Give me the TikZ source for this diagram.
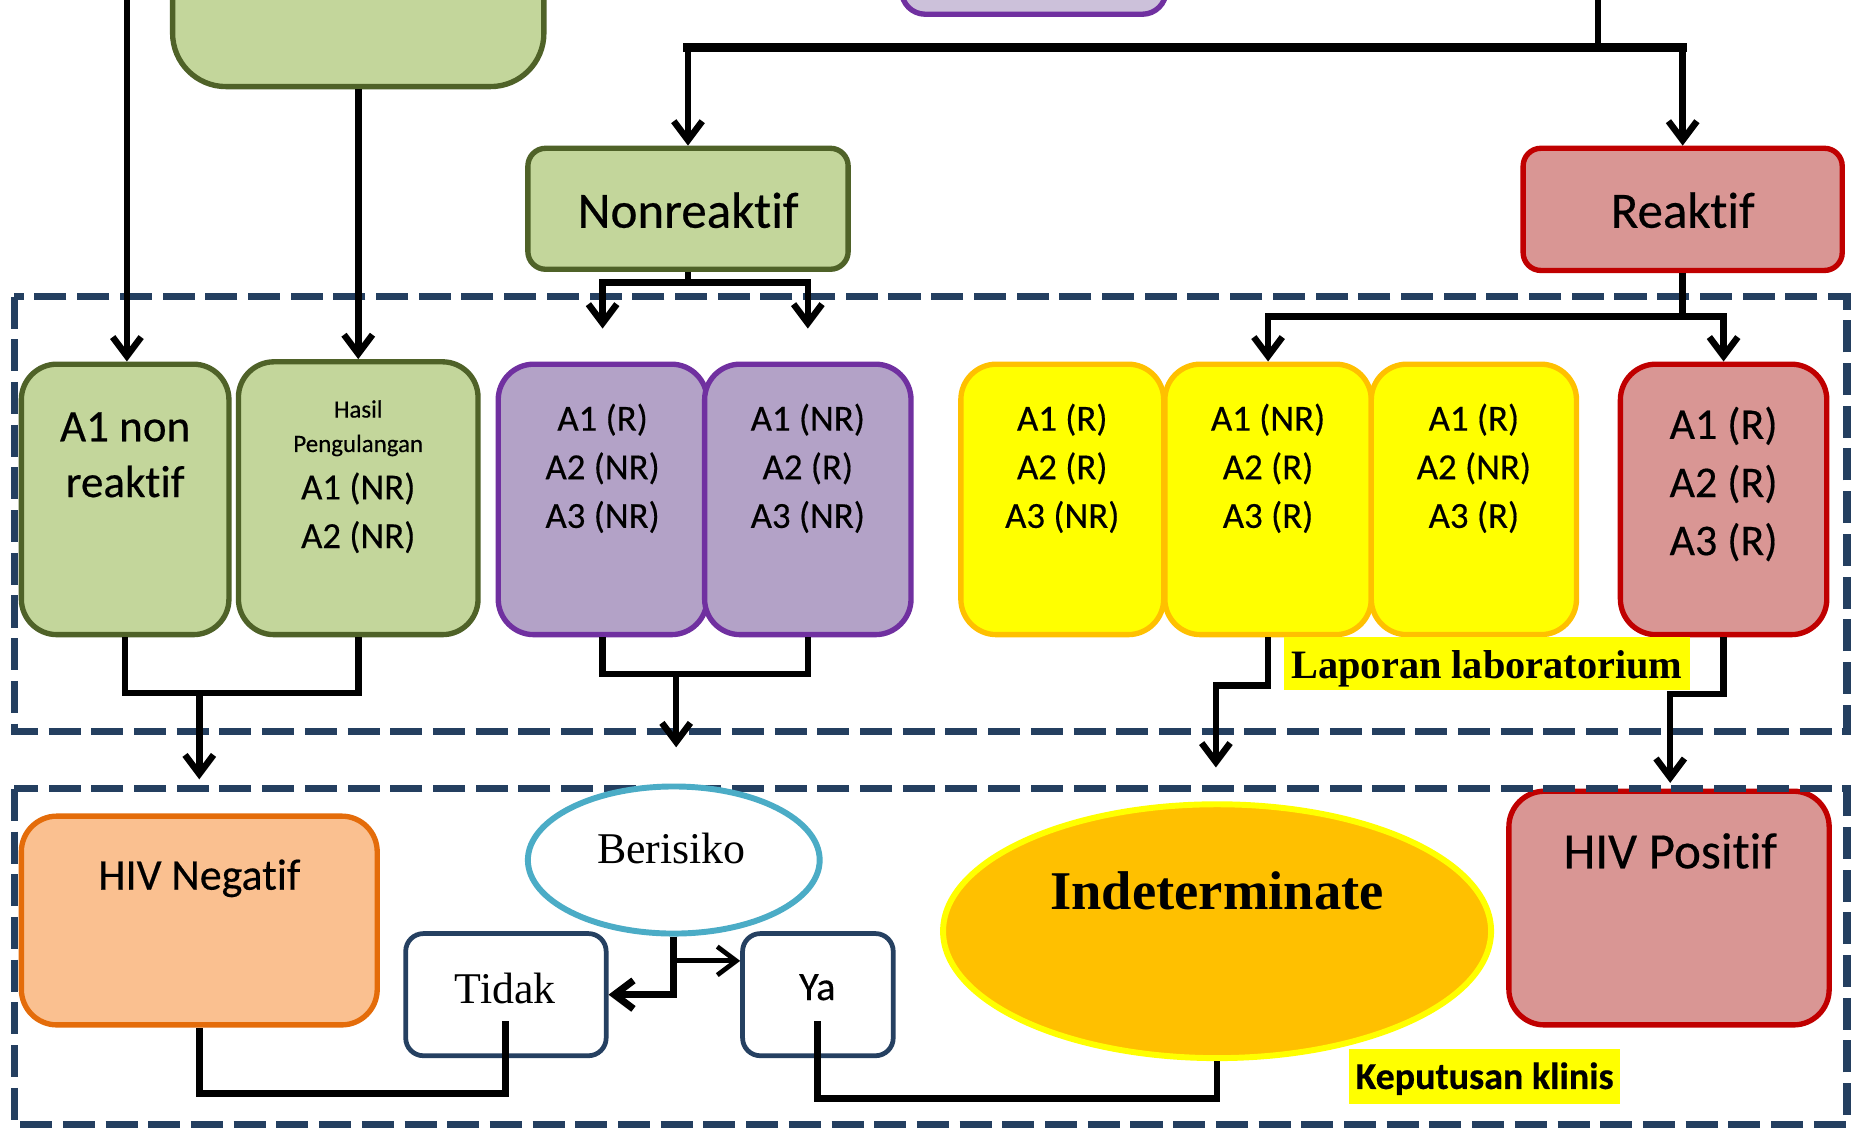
\documentclass[tikz,border=0pt]{standalone}
\usepackage{fontspec}
\setmainfont{Liberation Serif}
\newfontfamily\calfont{Carlito}[FakeBold=0.4,Ligatures=NoCommon]
\newfontfamily\camfont{Liberation Serif}
\usetikzlibrary{arrows.meta,shapes.geometric}
\definecolor{grnF}{HTML}{C3D69B}
\definecolor{grnD}{HTML}{4F6228}
\definecolor{purF}{HTML}{B3A2C7}
\definecolor{purD}{HTML}{7030A0}
\definecolor{purL}{HTML}{CCC1DA}
\definecolor{ylF}{HTML}{FFFF00}
\definecolor{ylD}{HTML}{FFC000}
\definecolor{redF}{HTML}{D99694}
\definecolor{redD}{HTML}{C00000}
\definecolor{orF}{HTML}{FAC090}
\definecolor{orD}{HTML}{E46C0A}
\definecolor{tealD}{HTML}{4BACC6}
\definecolor{bluD}{HTML}{254061}
\definecolor{navy}{HTML}{243F60}
\definecolor{indF}{HTML}{FFC000}
\newcommand\stk[1]{\begin{tabular}[t]{@{}c@{}}#1\end{tabular}}
\tikzset{
  rb/.style={draw, rounded corners=#1, line width=4.5pt, inner sep=0pt},
  rb/.default=30pt,
  conn/.style={line width=5.5pt, draw=black},
  arr/.style={conn, -{Straight Barb[length=16pt,width=24pt]}},
  dbox/.style={draw=navy, line width=6pt, dash pattern=on 27pt off 9pt},
  sA/.style={font=\calfont\fontsize{43}{50}\selectfont, anchor=base, inner sep=0pt},
  sB/.style={font=\calfont\fontsize{38}{47}\selectfont, anchor=base, inner sep=0pt},
  sC/.style={font=\calfont\fontsize{31}{41}\selectfont, anchor=base, inner sep=0pt},
  sD/.style={font=\calfont\fontsize{21}{29}\selectfont, anchor=base, inner sep=0pt},
  sE/.style={font=\calfont\fontsize{37}{49}\selectfont, anchor=base, inner sep=0pt},
  rm/.style={font=\camfont\fontsize{37}{44}\selectfont, anchor=base, inner sep=0pt},
}
\begin{document}
\begin{tikzpicture}[x=1pt,y=-1pt]
\useasboundingbox (0,0) rectangle (1568,953);
\clip (0,0) rectangle (1568,953);
\fill[white] (0,0) rectangle (1568,953);

% top partial boxes
\node[rb=45pt, fill=grnF, draw=grnD, minimum width=313pt, minimum height=140pt] (topG) at (302,3) {};
\node[rb=20pt, fill=purL, draw=purD, minimum width=223pt, minimum height=80pt] (topP) at (871.5,-28) {};

% second level
\node[rb=15pt, fill=grnF, draw=grnD, minimum width=270pt, minimum height=102pt] (nonr) at (580,176) {};
\node[sA] (nonrT) at (580,192) {Nonreaktif};
\node[rb=15pt, fill=redF, draw=redD, minimum width=269pt, minimum height=103pt] (reak) at (1418.5,176.5) {};
\node[sA] (reakT) at (1418.5,192) {Reaktif};

% row of result boxes
\node[rb, fill=grnF, draw=grnD, minimum width=175pt, minimum height=228pt] (a1n) at (105.5,421) {};
\node[sB] (a1nT) at (105.5,372) {\stk{A1 non\\reaktif}};
\node[rb, fill=grnF, draw=grnD, minimum width=202pt, minimum height=230pt] (has) at (302,420) {};
\node[sD] (hasT1) at (302,352) {\stk{Hasil\\Pengulangan}};
\node[sC] (hasT2) at (302,421) {\stk{A1 (NR)\\A2 (NR)}};

\node[rb, fill=purF, draw=purD, minimum width=176pt, minimum height=228pt] (p1) at (508,421) {};
\node[sC] (p1T) at (508,363) {\stk{A1 (R)\\A2 (NR)\\A3 (NR)}};
\node[rb, fill=purF, draw=purD, minimum width=174pt, minimum height=228pt] (p2) at (681,421) {};
\node[sC] (p2T) at (681,363) {\stk{A1 (NR)\\A2 (R)\\A3 (NR)}};

\node[rb, fill=ylF, draw=ylD, minimum width=171pt, minimum height=228pt] (y1) at (895.5,421) {};
\node[sC] (y1T) at (895.5,363) {\stk{A1 (R)\\A2 (R)\\A3 (NR)}};
\node[rb, fill=ylF, draw=ylD, minimum width=174pt, minimum height=228pt] (y2) at (1069,421) {};
\node[sC] (y2T) at (1069,363) {\stk{A1 (NR)\\A2 (R)\\A3 (R)}};
\node[rb, fill=ylF, draw=ylD, minimum width=173pt, minimum height=228pt] (y3) at (1242.5,421) {};
\node[sC] (y3T) at (1242.5,363) {\stk{A1 (R)\\A2 (NR)\\A3 (R)}};

\node[rb, fill=redF, draw=redD, minimum width=174pt, minimum height=228pt] (rr) at (1453,421) {};
\node[sE] (rrT) at (1453,370) {\stk{A1 (R)\\A2 (R)\\A3 (R)}};

\node[fill=ylF, inner sep=0pt, minimum width=343pt, text height=35pt, text depth=10pt,
      font=\camfont\bfseries\fontsize{34}{40}\selectfont] (lap) at (1253.5,559.5) {Laporan laboratorium};

% bottom row
\node[rb, fill=orF, draw=orD, minimum width=300pt, minimum height=176pt] (neg) at (168,776) {};
\node[sE] (negT) at (168,750) {HIV Negatif};
\node[rb, fill=redF, draw=redD, minimum width=270pt, minimum height=197pt] (pos) at (1407,765.5) {};
\node[sA] (posT) at (1408,732) {HIV Positif};
\node[ellipse, fill=indF, draw=ylF, line width=5pt, inner sep=0pt, minimum width=462pt, minimum height=214pt] (ind) at (1026,785) {};
\node[font=\camfont\bfseries\fontsize{46}{54}\selectfont, anchor=base, inner sep=0pt] (indT) at (1026,767) {Indeterminate};
\node[rb=15pt, fill=white, draw=bluD, line width=4pt, minimum width=169pt, minimum height=103pt] (tid) at (426.5,838.5) {};
\node[rm] (tidT) at (426,846) {Tidak};
\node[rb=15pt, fill=white, draw=bluD, line width=4pt, minimum width=127pt, minimum height=103pt] (ya) at (689.5,838.5) {};
\node[font=\calfont\fontsize{34}{40}\selectfont, anchor=base, inner sep=0pt] (yaT) at (689,843) {Ya};
\node[fill=ylF, inner sep=0pt, minimum width=229pt, text height=34pt, text depth=13pt,
      font=\calfont\bfseries\fontsize{32}{38}\selectfont] (kep) at (1251.5,907.5) {Keputusan klinis};

% dashed frames
\draw[dbox] (12,250) rectangle (1557,617);
\draw[dbox] (12,665) rectangle (1557,948);

\node[ellipse, draw=tealD, fill=white, line width=5pt, inner sep=0pt, minimum width=246pt, minimum height=124pt] (ber) at (568,725) {};
\node[rm] (berT) at (566,728) {Berisiko};

% connectors
\coordinate (tl) at (107,-10);
\draw[arr] (tl) -- (tl |- a1n.north);
\draw[arr] (topG.south) -- (has.north);

\coordinate (tr) at (1347,-10);
\coordinate (hj) at (1347,40);
\draw[conn] (tr) -- (hj);
\draw[conn, line width=8pt, line cap=rect] (nonr.north |- hj) -- (reak.north |- hj);
\draw[arr] (nonr.north |- hj) -- (nonr.north);
\draw[arr] (reak.north |- hj) -- (reak.north);

\coordinate (nrj) at (580,238);
\coordinate (nrl) at (508,277);
\coordinate (nrr) at (681,277);
\draw[conn] (nonr.south) -- (nrj);
\draw[arr] (nrj) -| (nrl);
\draw[arr] (nrj) -| (nrr);

\coordinate (rj) at (1418.5,267);
\draw[conn] (reak.south) -- (rj);
\draw[arr] (rj) -| (y2.north);
\draw[arr] (rj) -| (rr.north);

\coordinate (gj) at (168,584);
\coordinate (gt) at (168,657);
\draw[conn] (a1n.south) |- (gj) -| (has.south);
\draw[arr] (gj) -- (gt);

\coordinate (pj) at (570,568);
\coordinate (pt) at (570,630);
\draw[conn] (p1.south) |- (pj) -| (p2.south);
\draw[arr] (pj) -- (pt);

\coordinate (yj) at (1069,578);
\coordinate (yt) at (1025,647);
\draw[arr] (y2.south) -- (yj) -| (yt);

\coordinate (rrj) at (1453,585);
\coordinate (rt) at (1408,660);
\draw[arr] (rr.south) -- (rrj) -| (rt);

\draw[arr, line width=6pt] (ber.south) |- (tid.east);
\coordinate (bj) at (568,810);
\draw[arr, line width=4pt] (bj) -- (bj -| ya.west);

\coordinate (ts) at (426,861);
\coordinate (tb) at (426,922);
\draw[conn] (ts) -- (tb) -| (neg.south);
\coordinate (yas) at (689,861);
\coordinate (yab) at (689,926);
\draw[conn] (yas) -- (yab) -| (ind.south);
\end{tikzpicture}
\end{document}
